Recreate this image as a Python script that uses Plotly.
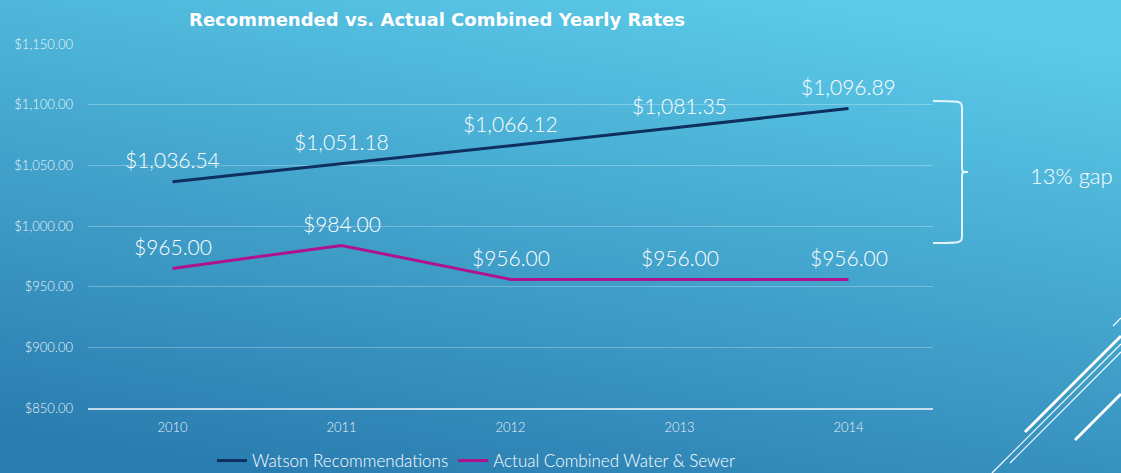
import base64
import plotly.graph_objects as go

years = ["2010", "2011", "2012", "2013", "2014"]
watson = [1036.54, 1051.18, 1066.12, 1081.35, 1096.89]
actual = [965.00, 984.00, 956.00, 956.00, 956.00]
series_names = ["Watson Recommendations", "Actual Combined Water & Sewer"]
title_text = "Recommended vs. Actual Combined Yearly Rates"
gap_text = "13% gap"

W, H = 1121, 473
ML, MR, MT, MB = 88, 188, 44, 65
PW, PH = W - ML - MR, H - MT - MB

def px(x):
    return (x - ML) / PW

def py(y):
    return (H - MB - y) / PH

FONT = "Lato"
WHITE = "#ffffff"
LIGHT = 300

fig = go.Figure()
fig.add_trace(go.Scatter(x=years, y=watson, mode="lines", name=series_names[0],
                         line=dict(color="#0f2f5e", width=3)))
fig.add_trace(go.Scatter(x=years, y=actual, mode="lines", name=series_names[1],
                         line=dict(color="#b0128c", width=3)))

for series in (watson, actual):
    for i, v in enumerate(series):
        fig.add_annotation(x=i, y=v, text=f"${v:,.2f}", showarrow=False,
                           yshift=22, font=dict(family=FONT, size=21, color=WHITE, weight=LIGHT))

# background gradient (with a little bleed on every side)
B = 10
svg = f'''<svg xmlns="http://www.w3.org/2000/svg" width="{W+2*B}" height="{H+2*B}" viewBox="0 0 {W+2*B} {H+2*B}" preserveAspectRatio="none">
<defs><linearGradient id="g" x1="0.3" y1="1" x2="0.7" y2="0">
<stop offset="0" stop-color="#2a7db0"/><stop offset="1" stop-color="#5ccbe9"/></linearGradient></defs>
<rect width="{W+2*B}" height="{H+2*B}" fill="url(#g)"/></svg>'''
uri = "data:image/svg+xml;base64," + base64.b64encode(svg.encode()).decode()
fig.add_layout_image(source=uri, xref="paper", yref="paper", x=px(-B), y=py(-B),
                     sizex=(W + 2 * B) / PW, sizey=(H + 2 * B) / PH, xanchor="left", yanchor="top",
                     sizing="stretch", layer="below")

# brace
bx0, bx1, btip = 933, 962, 968
by0, by1, bym = 101, 243, 172
path = (f"M {px(bx0)},{py(by0)} C {px(bx1)},{py(by0)} {px(bx1)},{py(by0)} {px(bx1)},{py(by0+8)} "
        f"L {px(bx1)},{py(bym-6)} C {px(bx1)},{py(bym)} {px(bx1)},{py(bym)} {px(btip)},{py(bym)} "
        f"C {px(bx1)},{py(bym)} {px(bx1)},{py(bym)} {px(bx1)},{py(bym+6)} "
        f"L {px(bx1)},{py(by1-8)} C {px(bx1)},{py(by1)} {px(bx1)},{py(by1)} {px(bx0)},{py(by1)}")
fig.add_shape(type="path", path=path, xref="paper", yref="paper",
              line=dict(color="rgba(255,255,255,0.85)", width=2))
fig.add_annotation(text=gap_text, xref="paper", yref="paper", x=px(1071), y=py(175),
                   xanchor="center", yanchor="middle",
                   showarrow=False, font=dict(family=FONT, size=22, color=WHITE, weight=LIGHT))

# decorative lines bottom right
deco = [
    (1025, 432, 1121, 336, 3),
    (1010, 463, 1121, 352, 1.2),
    (992, 473, 1121, 344, 1.2),
    (1075, 440, 1121, 394, 3),
    (1113, 326, 1121, 318, 1.2),
]
for x0, y0, x1, y1, w in deco:
    fig.add_shape(type="line", xref="paper", yref="paper", x0=px(x0), y0=py(y0),
                  x1=px(x1), y1=py(y1), line=dict(color="white", width=w))

fig.update_layout(
    width=W, height=H,
    margin=dict(l=ML, r=MR, t=MT, b=MB, autoexpand=False),
    paper_bgcolor="#2f8cbf", plot_bgcolor="rgba(0,0,0,0)",
    title=dict(text=f"<b>{title_text}</b>", x=437 / W, xref="container", xanchor="center",
               y=1 - 20 / H, yref="container", yanchor="middle",
               font=dict(family="DejaVu Sans", size=18, color=WHITE)),
    showlegend=True,
    legend=dict(orientation="h", x=476 / W, xref="container", xanchor="center",
                y=1 - 461 / H, yref="container", yanchor="middle",
                font=dict(family=FONT, size=17, color=WHITE, weight=LIGHT), bgcolor="rgba(0,0,0,0)",
                itemwidth=30, tracegroupgap=0),
    xaxis=dict(type="category", showgrid=False, showline=True, linecolor="rgba(255,255,255,0.7)",
               linewidth=2, ticks="", ticklabelstandoff=6,
               tickfont=dict(family=FONT, size=13, color="rgba(255,255,255,0.92)", weight=LIGHT),
               range=[-0.5, 4.5], zeroline=False),
    yaxis=dict(range=[850, 1150], dtick=50, tickformat="$,.2f", showgrid=True,
               gridcolor="rgba(255,255,255,0.28)", gridwidth=1, zeroline=False, ticks="",
               ticklabelstandoff=14,
               tickfont=dict(family=FONT, size=13, color="rgba(255,255,255,0.92)", weight=LIGHT)),
)

fig.write_html("out.html", config={"displayModeBar": False},
               post_script="document.body.style.margin='0';document.body.style.overflow='hidden';")
